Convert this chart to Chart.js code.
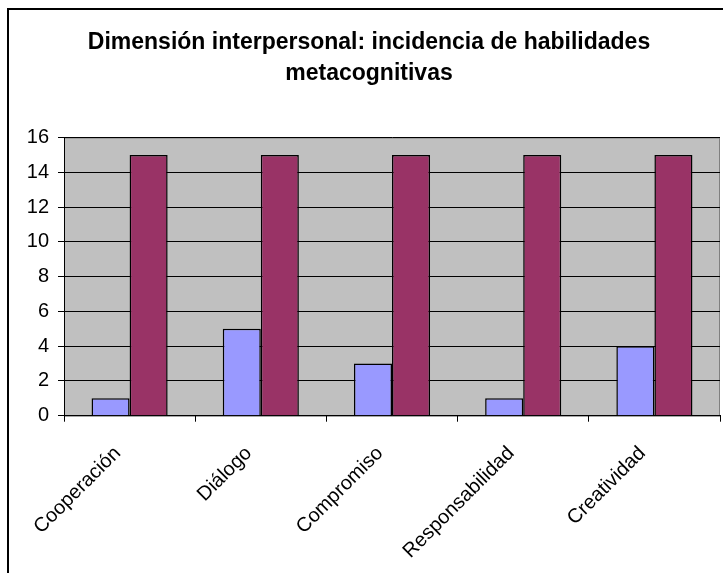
<!DOCTYPE html>
<html><head><meta charset="utf-8">
<script src="https://cdn.jsdelivr.net/npm/chart.js@4/dist/chart.umd.min.js"></script>
<style>html,body{margin:0;padding:0;background:#fff}canvas{display:block}</style>
</head><body>
<canvas id="c" width="723" height="573"></canvas>
<script>
const categories = ['Cooperación', 'Diálogo', 'Compromiso', 'Responsabilidad', 'Creatividad'];
const seriesA = [1, 5, 3, 1, 4];
const seriesB = [15, 15, 15, 15, 15];
const yMin = 0, yMax = 16, yStep = 2;
const titleLines = ['Dimensión interpersonal: incidencia de habilidades', 'metacognitivas'];

const FONT = '"Liberation Sans", Arial, sans-serif';

const framePlugin = {
  id: 'frame',
  beforeDraw(chart) {
    const ctx = chart.ctx, a = chart.chartArea;
    ctx.save();
    ctx.fillStyle = '#fff';
    ctx.fillRect(0, 0, chart.width, chart.height);
    ctx.strokeStyle = '#000';
    ctx.lineWidth = 2;
    ctx.strokeRect(8, 9, 800, 800);
    ctx.fillStyle = '#C0C0C0';
    ctx.fillRect(a.left, a.top, a.right - a.left, a.bottom - a.top);
    ctx.strokeStyle = '#808080';
    ctx.lineWidth = 1;
    ctx.strokeRect(a.left + 0.5, a.top + 0.5, a.right - a.left - 1, a.bottom - a.top);
    ctx.restore();
  }
};

new Chart(document.getElementById('c'), {
  type: 'bar',
  data: {
    labels: categories,
    datasets: [
      { data: seriesA, backgroundColor: '#9999FF', borderColor: '#000', borderWidth: 1.5 },
      { data: seriesB, backgroundColor: '#993366', borderColor: '#000', borderWidth: 1.5 }
    ]
  },
  options: {
    responsive: false,
    animation: false,
    events: [],
    categoryPercentage: 0.58,
    barPercentage: 1.0,
    layout: { padding: { left: 18, right: 3, top: 0, bottom: 0 } },
    plugins: {
      legend: { display: false },
      tooltip: { enabled: false },
      title: {
        display: true,
        text: titleLines,
        color: '#000',
        font: { family: FONT, size: 23, weight: 'bold', lineHeight: 1.35 },
        padding: { top: 27, bottom: 48.4 }
      }
    },
    scales: {
      x: {
        grid: { display: true, drawOnChartArea: false, drawTicks: true, tickLength: 6, color: '#000' },
        border: { display: true, color: '#000', width: 1 },
        ticks: { color: '#000', font: { family: FONT, size: 20 }, minRotation: 45, maxRotation: 45, padding: 20, labelOffset: -12 },
        afterFit(s) { s.height = 157.3; }
      },
      y: {
        min: yMin, max: yMax,
        grid: { color: '#000', tickLength: 6, drawTicks: true },
        border: { display: true, color: '#000', width: 1 },
        ticks: { stepSize: yStep, color: '#000', font: { family: FONT, size: 20 }, padding: 9 },
        afterFit(s) { s.width = 46; }
      }
    }
  },
  plugins: [framePlugin]
});
</script>
</body></html>
